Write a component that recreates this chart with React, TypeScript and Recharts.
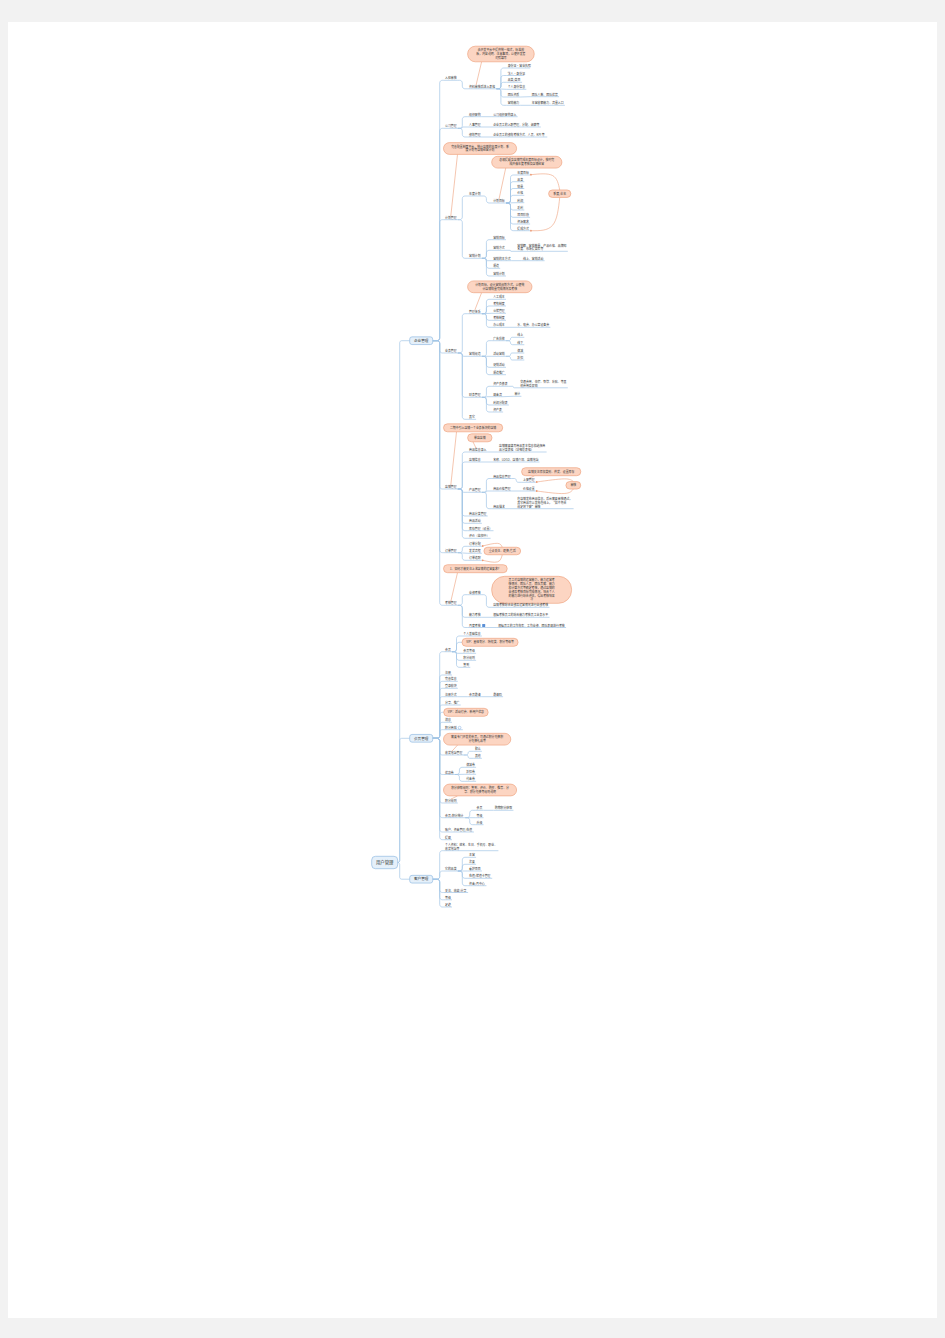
import React from 'react';
import { ScatterChart, Scatter, XAxis, YAxis } from 'recharts';

type Row = [string, string, string, number];

// ---------- DATA (topic id, parent id, label, row) ----------
const rootTopics: Row[] = [
  ['root', '', '用户管理', 862.5],
  ['ent', 'root', '企业管理', 340.7],
  ['mem', 'root', '会员管理', 738.3],
  ['cus', 'root', '客户管理', 879.2],
];

const settleInTopics: Row[] = [
  ['e1', 'ent', '入驻审核', 78.3],
  ['e1a', 'e1', '资料审核后进入表格', 86.8],
  ['e1a1', 'e1a', '身份证·营业执照', 66],
  ['e1a2', 'e1a', '法人·身份证', 73.5],
  ['e1a3', 'e1a', '品类/类目', 80.3],
  ['e1a4', 'e1a', '个人身份信息', 87.3],
  ['e1a5', 'e1a', '团队资质', 95],
  ['e1a5a', 'e1a5', '团队人数、团队优势', 94.7],
  ['e1a6', 'e1a', '营销能力', 103.3],
  ['e1a6a', 'e1a6', '年营收额能力、流量入口', 103.3],
];

const companyTopics: Row[] = [
  ['e2', 'ent', '公司管理', 126.3],
  ['e2a', 'e2', '组织架构', 114.7],
  ['e2a1', 'e2a', '公司组织架构录入', 114.7],
  ['e2b', 'e2', '人事管理', 125],
  ['e2b1', 'e2b', '企业员工的入职管理、分配、调薪等', 125],
  ['e2c', 'e2', '绩效管理', 135],
  ['e2c1', 'e2c', '企业员工的绩效考核方式、人员、KPI 等', 135],
];

const planTopics: Row[] = [
  ['e3', 'ent', '计划管理', 217.7],
  ['e3a', 'e3', '年度计划', 194],
  ['e3a1', 'e3a', '计划目标', 201],
  ['e3a1a', 'e3a1', '年度目标', 173],
  ['e3a1b', 'e3a1', '品类', 179.7],
  ['e3a1c', 'e3a1', '销量', 186.5],
  ['e3a1d', 'e3a1', '价格', 193.3],
  ['e3a1e', 'e3a1', '利润', 200.7],
  ['e3a1f', 'e3a1', '毛利', 208],
  ['e3a1g', 'e3a1', '项目阶段', 215.3],
  ['e3a1h', 'e3a1', '资源需求', 222],
  ['e3a1i', 'e3a1', '提成方式', 228.7],
  ['e3b', 'e3', '营销计划', 256.3],
  ['e3b1', 'e3b', '营销目标', 237.7],
  ['e3b2', 'e3b', '营销方式', 248.3],
  ['e3b2a', 'e3b2', '营销额、营销数量、产品价格、品牌知\n名度、市场提高率等', 249.3],
  ['e3b3', 'e3b', '营销的主方式', 258.7],
  ['e3b3a', 'e3b3', '线上、营销活动', 258.7],
  ['e3b4', 'e3b', '渠道', 266.3],
  ['e3b5', 'e3b', '营销计划', 274],
];

const businessTopics: Row[] = [
  ['e4', 'ent', '业务管理', 351],
  ['e4a', 'e4', '管理体系', 311.7],
  ['e4a1', 'e4a', '人工成本', 297.3],
  ['e4a2', 'e4a', '考勤制度', 304],
  ['e4a3', 'e4a', '仓储管理', 311.3],
  ['e4a4', 'e4a', '考核制度', 318.3],
  ['e4a5', 'e4a', '办公成本', 325.3],
  ['e4a5a', 'e4a5', '水、电费、办公室设备费', 325.3],
  ['e4b', 'e4', '营销规范', 354.3],
  ['e4b1', 'e4b', '广告投放', 338.7],
  ['e4b1a', 'e4b1', '线上', 335.3],
  ['e4b1b', 'e4b1', '线下', 342.7],
  ['e4b2', 'e4b', '活动营销', 354.3],
  ['e4b2a', 'e4b2', '满减', 351],
  ['e4b2b', 'e4b2', '折扣', 358],
  ['e4b3', 'e4b', '促销活动', 365.3],
  ['e4b4', 'e4b', '渠道推广', 372.7],
  ['e4c', 'e4', '财务管理', 395.3],
  ['e4c1', 'e4c', '资产负债表', 384.3],
  ['e4c1a', 'e4c1', '交通费用、住宿、餐饮、补贴、等其\n他费用及报销', 385.8],
  ['e4c2', 'e4c', '现金流', 394.7],
  ['e4c2a', 'e4c2', '审计', 394.3],
  ['e4c3', 'e4c', '利润分配表', 403],
  ['e4c4', 'e4c', '资产表', 410],
  ['e4d', 'e4', '其它', 417.3],
];

const shopTopics: Row[] = [
  ['e5', 'ent', '店铺管理', 487],
  ['e5a', 'e5', '商品信息录入', 450],
  ['e5a1', 'e5a', '店铺需要填写商品基本信息和选择商\n品分类表格（详细见表格）', 450],
  ['e5b', 'e5', '店铺信息', 460],
  ['e5b1', 'e5b', '名称、LOGO、店铺介绍、店铺地址', 460],
  ['e5c', 'e5', '产品管理', 490.3],
  ['e5c1', 'e5c', '商品信息管理', 476.5],
  ['e5c1a', 'e5c1', '上架管理', 480.3],
  ['e5c2', 'e5c', '商品价格管理', 489],
  ['e5c2a', 'e5c2', '价格设置', 489],
  ['e5c3', 'e5c', '商品描述', 506.7],
  ['e5c3a', 'e5c3', '在店铺发布商品信息，后台需要审核通过，\n其它商品可以发布在线上，“如不符合\n规定将下架”审核', 506.7],
  ['e5d', 'e5', '商品分类管理', 514],
  ['e5e', 'e5', '商品活动', 521.3],
  ['e5f', 'e5', '库存管理（设置）', 528.7],
  ['e5g', 'e5', '评价（监控中）', 536.3],
];

const orderAndReviewTopics: Row[] = [
  ['e6', 'ent', '订单管理', 550.7],
  ['e6a', 'e6', '订单分配', 544.3],
  ['e6b', 'e6', '发货流程', 551.3],
  ['e6c', 'e6', '订单追踪', 558.3],
  ['e7', 'ent', '考核管理', 603.3],
  ['e7a', 'e7', '业绩考核', 592.7],
  ['e7a1', 'e7a', '店铺考核综合业绩及运营情况进行业绩考核', 605.3],
  ['e7b', 'e7', '能力考核', 615.3],
  ['e7b1', 'e7b', '根据考核员工的综合能力考核员工业务水平', 615.3],
  ['e7c', 'e7', '月度考核', 625.5],
  ['e7c1', 'e7c', '根据员工的工作效率、工作业绩、团队表现进行考核', 625.5],
];

const memberTopics: Row[] = [
  ['m1', 'mem', '会员', 649.7],
  ['m1a', 'm1', '个人基础信息', 634],
  ['m1b', 'm1', 'VIP：星级划分、特权类、积分等级等', 642.3],
  ['m1c', 'm1', '会员等级', 651.3],
  ['m1d', 'm1', '积分规则', 658.3],
  ['m1e', 'm1', '签到', 665.3],
  ['m2', 'mem', '注册', 673],
  ['m3', 'mem', '完善信息', 679.3],
  ['m4', 'mem', '登录模块', 686.3],
  ['m5', 'mem', '注册方式', 694.7],
  ['m5a', 'm5', '会员邀请', 694.7],
  ['m5a1', 'm5a', '邀请码', 694.7],
  ['m6', 'mem', '分享、推广', 703],
  ['m6v', 'mem', 'VIP：活动付费、新用户优惠', 712.3],
  ['m7', 'mem', '消息', 720.3],
  ['m8', 'mem', '积分商城', 727.7],
  ['m9', 'mem', '收货地址管理', 753],
  ['m9a', 'm9', '默认', 749.3],
  ['m9b', 'm9', '其他', 756.3],
  ['m10', 'mem', '优惠券', 772.5],
  ['m10a', 'm10', '满减券', 765.3],
  ['m10b', 'm10', '折扣券', 772.3],
  ['m10c', 'm10', '代金券', 779.3],
  ['m11', 'mem', '积分规则', 801],
  ['m12', 'mem', '会员/积分统计', 815.7],
  ['m12a', 'm12', '会员', 808.3],
  ['m12a1', 'm12a', '购物积分获取', 808.3],
  ['m12b', 'm12', '等级', 815.7],
  ['m12c', 'm12', '升级', 822.7],
  ['m13', 'mem', '账户、资金管理/充值', 830],
  ['m14', 'mem', '提现', 837.7],
];

const customerTopics: Row[] = [
  ['c1', 'cus', '个人资料：姓名、生日、手机号、职业、\n收货地址等', 848.7],
  ['c2', 'cus', '它的品类', 869],
  ['c2a', 'c2', '主营', 855.3],
  ['c2b', 'c2', '次要', 862.3],
  ['c2c', 'c2', '看护项目', 869],
  ['c2d', 'c2', '充值/储值卡管理', 876.3],
  ['c2e', 'c2', '资金/月中心', 883.7],
  ['c3', 'cus', '关注、收藏/分享', 890.5],
  ['c4', 'cus', '等级', 897.8],
  ['c5', 'cus', '足迹', 905],
];

const pillTopicIds: string[] = ['m1b', 'm6v'];
const iconTopics: [string, string][] = [['e7c', 'list'], ['m8', 'circle']];

// callout notes: [attached topic id, text, row of callout centre]
const calloutNotes: [string, string, number][] = [
  ['e1a', '由开发平台中提供统一格式，标准模\n板，内容说明、注意事项，以便开发者\n对照填写', 54],
  ['e3', '完善配置制度平台，统计店铺的年度计划、季\n度计划等店铺经营计划', 148.5],
  ['e3a1', '总部提醒各店铺完成年度目标设计，按时完\n成并做年度考核及店铺经营', 162.2],
  ['e4a', '计划目标，设计营销规划方式，以便统\n计店铺销量完成情况及考核', 286.8],
  ['e5', '二期中引入店铺一个业务板块的店铺', 427.8],
  ['e5a', '单店店铺', 437.8],
  ['e5c1a', '店铺关注添加类别、供货、设置库存', 471.7],
  ['e7', '1、如何才能关注上述店铺的运营要求？', 568.7],
  ['e7a1', '员工对店铺的运营能力，能力运营考\n核情况、团队人员、团队贡献、能力\n和计算方式等确定考核，通过店铺的\n业绩及考核目标完成情况，结合个人\n的能力进行综合评估，得出考核结果\n与', 589.8],
  ['m9', '需要专门开发的会员，可通过积分兑换积\n分兑换礼品等', 739.2],
  ['m11', '积分获取规则：签到、评价、购买、推荐、分\n享、积分兑换等规则说明', 790],
];

// floating relation notes: [label, linked topic ids, row of note centre]
const relationNotes: [string, string[], number][] = [
  ['季度/半年', ['e3a1a', 'e3a1i'], 193.7],
  ['审核', ['e5c1a', 'e5c2a'], 485.3],
  ['重点关注、退换/售后', ['e6a', 'e6c'], 551],
];

// ---------- LAYOUT / STYLE ----------
const W = 945;
const H = 1338;
const ROOT_LEFT = 371.7;
const FS = 2.9;
const LH = 3.7;
const RELATION_GAP = [18.5, 30, 2];
const FONT = "'Noto Sans CJK SC', 'Noto Sans', sans-serif";
const COL = {
  line: '#a3c6e6',
  text: '#333333',
  boxFill: '#e5f0fa',
  boxStroke: '#93bbe2',
  noteFill: '#fcd5c2',
  noteStroke: '#ec9a74',
  noteLine: '#ef9f7b',
  icon: '#5a8fd6',
};

function textW(s: string, fs: number): number {
  let w = 0;
  for (const ch of s) {
    const c = ch.charCodeAt(0);
    if (c >= 0x2e80 || ch === '“' || ch === '”') w += fs;
    else if (ch === ' ' || ch === '·') w += fs * 0.32;
    else if (/[A-Z]/.test(ch)) w += fs * 0.64;
    else w += fs * 0.56;
  }
  return w;
}

type Kind = 'root' | 'main' | 'topic' | 'pill';
type Node = {
  id: string; parent: string; lines: string[]; kind: Kind; fs: number;
  x: number; y: number; w: number; h: number;
  exitX: number; exitY: number; entryX: number; entryY: number; trunk: number; icon?: string;
};

const allRows: Row[] = [
  ...rootTopics, ...settleInTopics, ...companyTopics, ...planTopics, ...businessTopics,
  ...shopTopics, ...orderAndReviewTopics, ...memberTopics, ...customerTopics,
];
const iconMap: Record<string, string> = Object.fromEntries(iconTopics);

const nodes: Node[] = [];
const byId: Record<string, Node> = {};
for (const [id, parent, label, row] of allRows) {
  const lines = label.split('\n');
  const p = parent ? byId[parent] : undefined;
  let n: Node;
  if (!p) {
    const fs = 4.4;
    const w = Math.max(...lines.map((l) => textW(l, fs))) + 8.4;
    n = { id, parent, lines, kind: 'root', fs, x: ROOT_LEFT, y: row, w, h: 12.4,
      exitX: ROOT_LEFT + w, exitY: row, entryX: ROOT_LEFT, entryY: row, trunk: 0 };
  } else if (p.kind === 'root') {
    const fs = 3.6;
    const w = Math.max(...lines.map((l) => textW(l, fs))) + 8.6;
    const x = p.exitX + 12;
    n = { id, parent, lines, kind: 'main', fs, x, y: row, w, h: 7.7,
      exitX: x + w, exitY: row, entryX: x, entryY: row, trunk: p.exitX + 2 };
  } else {
    const ulStart = p.exitX + (p.kind === 'main' ? 11 : 10);
    const trunk = p.exitX + (p.kind === 'main' ? 7 : 4.5);
    const tw = Math.max(...lines.map((l) => textW(l, FS)));
    if (pillTopicIds.includes(id)) {
      const w = tw + 7;
      n = { id, parent, lines, kind: 'pill', fs: FS, x: ulStart, y: row, w, h: 8,
        exitX: ulStart + w, exitY: row, entryX: ulStart, entryY: row, trunk };
    } else {
      const icon = iconMap[id];
      const x = ulStart + 1.3;
      const w = tw + (icon ? 5 : 0);
      n = { id, parent, lines, kind: 'topic', fs: FS, x, y: row, w, h: lines.length * LH,
        exitX: x + w + 1.2, exitY: row + 2, entryX: ulStart, entryY: row + 2, trunk, icon };
    }
  }
  nodes.push(n);
  byId[id] = n;
}

type Pt = { x: number; y: number };
function elbow(px: number, py: number, tx: number, cx: number, cy: number): Pt[] {
  const dy = cy - py;
  if (Math.abs(dy) < 0.6) return [{ x: px, y: py }, { x: cx, y: cy }];
  const s = Math.sign(dy);
  const r = Math.max(0.3, Math.min(2.6, Math.abs(dy) / 2, tx - px, cx - tx));
  const pts: Pt[] = [{ x: px, y: py }];
  for (let i = 0; i <= 4; i++) {
    const a = (i / 4) * (Math.PI / 2);
    pts.push({ x: tx - r + r * Math.sin(a), y: py + s * r - s * r * Math.cos(a) });
  }
  for (let i = 0; i <= 4; i++) {
    const a = (i / 4) * (Math.PI / 2);
    pts.push({ x: tx + r - r * Math.cos(a), y: cy - s * r + s * r * Math.sin(a) });
  }
  pts.push({ x: cx, y: cy });
  return pts;
}

const edges = nodes
  .filter((n) => n.parent)
  .map((n) => {
    const p = byId[n.parent];
    return { id: n.id, pts: elbow(p.exitX, p.exitY, n.trunk, n.entryX, n.entryY) };
  });

const callouts = calloutNotes.map(([target, text, row], i) => {
  const t = byId[target];
  const lines = text.split('\n');
  const tw = Math.max(...lines.map((l) => textW(l, FS)));
  const h = 4.2 + 3.8 * lines.length;
  const pad = lines.length > 3 ? h * 0.62 : 4 + h * 0.3;
  const w = tw + pad * 2;
  const left = t.x - 1.5;
  const link: Pt[] = [
    { x: left + Math.min(14, w * 0.22), y: row + h / 2 },
    { x: t.x + Math.min(7, t.w / 2), y: t.y - 1.8 - (t.lines.length - 1) * LH },
  ];
  return { key: `c${i}`, x: left, y: row, lines, w, h, link };
});

const relations = relationNotes.map(([label, targets, row], i) => {
  const ts = targets.map((id) => byId[id]);
  const w = textW(label, FS) + 9;
  const h = 7.5;
  const left = Math.max(...ts.map((t) => t.exitX)) + RELATION_GAP[i];
  const cx = left + w / 2;
  const up = ts[0];
  const dn = ts[1];
  const e1 = { x: up.exitX + 0.8, y: up.exitY - 0.3 };
  const s1 = { x: cx, y: row - h / 2 };
  const e2 = { x: dn.exitX + 0.8, y: dn.exitY };
  const s2 = { x: cx, y: row + h / 2 };
  const mid = (s: Pt, e: Pt, bump: number): Pt => ({
    x: s.x - 0.25 * Math.abs(s.x - e.x),
    y: e.y + 0.25 * (s.y - e.y) + bump,
  });
  const curves = [
    [s1, mid(s1, e1, -3), e1],
    [s2, mid(s2, e2, 3), e2],
  ];
  return { key: `r${i}`, label, x: left, y: row, w, h, curves };
});

// ---------- SHAPES ----------
const Empty = () => <g />;

const TopicShape = (props: any) => {
  const { cx, cy, payload } = props;
  const n: Node = payload;
  if (n.kind === 'root' || n.kind === 'main') {
    return (
      <g>
        <rect x={cx} y={cy - n.h / 2} width={n.w} height={n.h} rx={n.h * 0.3}
          fill={COL.boxFill} stroke={COL.boxStroke} strokeWidth={0.7} />
        <text x={cx + n.w / 2} y={cy + n.fs * 0.36} fontSize={n.fs} textAnchor="middle"
          fill={COL.text} fontFamily={FONT}>{n.lines[0]}</text>
      </g>
    );
  }
  if (n.kind === 'pill') {
    return (
      <g>
        <rect x={cx} y={cy - n.h / 2} width={n.w} height={n.h} rx={n.h / 2}
          fill={COL.noteFill} stroke={COL.noteStroke} strokeWidth={0.6} />
        <text x={cx + n.w / 2} y={cy + n.fs * 0.36} fontSize={n.fs} textAnchor="middle"
          fill={COL.text} fontFamily={FONT}>{n.lines[0]}</text>
      </g>
    );
  }
  const k = n.lines.length;
  const iconX = cx + n.w - 3.5;
  return (
    <g>
      {n.lines.map((l, i) => (
        <text key={i} x={cx} y={cy + n.fs * 0.36 - (k - 1 - i) * LH} fontSize={n.fs}
          fill={COL.text} fontFamily={FONT}>{l}</text>
      ))}
      <line x1={cx - 1.3} x2={cx + n.w + 1.2} y1={cy + 2} y2={cy + 2}
        stroke={COL.line} strokeWidth={0.7} />
      {n.icon === 'list' && (
        <rect x={iconX} y={cy - 1.5} width={3} height={3} rx={0.5} fill={COL.icon} />
      )}
      {n.icon === 'circle' && (
        <circle cx={iconX + 1.5} cy={cy} r={1.4} fill="#ffffff" stroke={COL.icon} strokeWidth={0.4} />
      )}
    </g>
  );
};

const CalloutShape = (props: any) => {
  const { cx, cy, payload } = props;
  const { w, h, lines } = payload;
  const k = lines.length;
  const top = cy - ((k - 1) * 3.8) / 2;
  return (
    <g>
      <rect x={cx} y={cy - h / 2} width={w} height={h} rx={Math.min(h / 2, 13)}
        fill={COL.noteFill} stroke={COL.noteStroke} strokeWidth={0.6} />
      {lines.map((l: string, i: number) => (
        <text key={i} x={cx + w / 2} y={top + i * 3.8 + FS * 0.36} fontSize={FS}
          textAnchor="middle" fill={COL.text} fontFamily={FONT}>{l}</text>
      ))}
    </g>
  );
};

const ArrowEnd = (props: any) => {
  const { cx, cy, index } = props;
  if (index !== 2) return <g />;
  return <circle cx={cx} cy={cy} r={0.9} fill={COL.noteStroke} />;
};

export default function App() {
  return (
    <div style={{ position: 'absolute', left: 0, top: 0, width: W, height: H, background: '#f2f2f2' }}>
      <div style={{ position: 'absolute', left: 8, top: 22, width: 929, height: 1296, background: '#ffffff' }} />
      <div style={{ position: 'absolute', left: 0, top: 0 }}>
        <ScatterChart width={W} height={H} margin={{ top: 0, right: 0, bottom: 0, left: 0 }}>
          <XAxis type="number" dataKey="x" domain={[0, W]} allowDataOverflow hide height={0} />
          <YAxis type="number" dataKey="y" domain={[0, H]} allowDataOverflow reversed hide width={0} />
          {edges.map((e) => (
            <Scatter key={`edge-${e.id}`} data={e.pts} shape={Empty}
              line={{ stroke: COL.line, strokeWidth: 0.7 }} lineJointType="linear"
              isAnimationActive={false} />
          ))}
          {callouts.map((c) => (
            <Scatter key={`link-${c.key}`} data={c.link} shape={Empty}
              line={{ stroke: COL.noteLine, strokeWidth: 0.6 }} isAnimationActive={false} />
          ))}
          {relations.map((r) =>
            r.curves.map((pts, j) => (
              <Scatter key={`rel-${r.key}-${j}`} data={pts} shape={ArrowEnd}
                line={{ stroke: COL.noteLine, strokeWidth: 0.6 }} lineJointType="natural"
                isAnimationActive={false} />
            ))
          )}
          <Scatter data={callouts} shape={CalloutShape} isAnimationActive={false} />
          <Scatter data={relations.map((r) => ({ x: r.x, y: r.y, w: r.w, h: r.h, lines: [r.label] }))}
            shape={CalloutShape} isAnimationActive={false} />
          <Scatter data={nodes} shape={TopicShape} isAnimationActive={false} />
        </ScatterChart>
      </div>
    </div>
  );
}
